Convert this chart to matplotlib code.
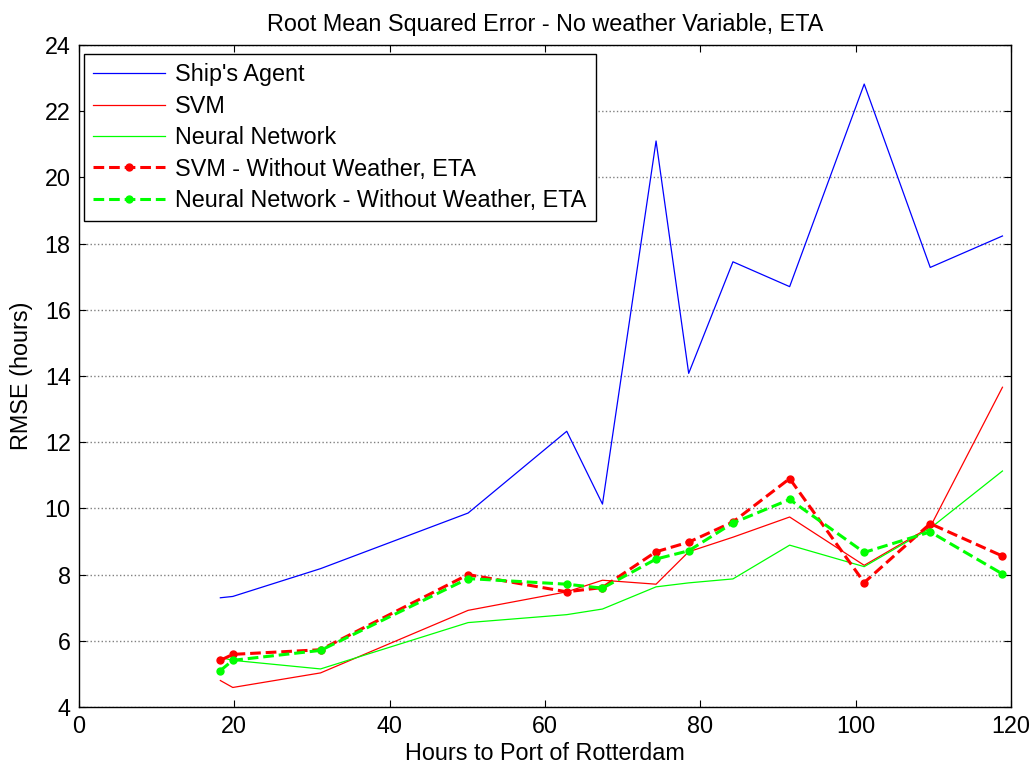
import matplotlib
matplotlib.use('Agg')
import matplotlib.pyplot as plt

plt.rcParams['font.family'] = 'Liberation Sans'

# hours to port for each evaluation point
hours = [18.2, 19.8, 31.1, 50.1, 62.8, 67.4, 74.3, 78.5, 84.2, 91.5, 101.1, 109.6, 118.9]

ships_agent = [7.30, 7.34, 8.18, 9.86, 12.33, 10.13, 21.10, 14.08, 17.45, 16.70, 22.82, 17.28, 18.23]
svm = [4.80, 4.59, 5.03, 6.92, 7.48, 7.83, 7.71, 8.69, 9.13, 9.74, 8.28, 9.44, 13.66]
nn = [5.50, 5.41, 5.15, 6.55, 6.79, 6.96, 7.63, 7.75, 7.87, 8.89, 8.24, 9.40, 11.13]
svm_no_weather = [5.41, 5.59, 5.73, 8.00, 7.48, 7.61, 8.69, 8.98, 9.59, 10.90, 7.76, 9.54, 8.56]
nn_no_weather = [5.10, 5.41, 5.71, 7.88, 7.71, 7.59, 8.47, 8.72, 9.56, 10.27, 8.67, 9.29, 8.02]

fs = 16.8

fig = plt.figure(figsize=(10.35, 7.71), dpi=100)
ax = fig.add_axes([79 / 1035, 1 - 707 / 771, (1011 - 79) / 1035, (707 - 45) / 771])

ax.grid(axis='y', linestyle=':', color='#808080', linewidth=1.0)
ax.set_axisbelow(True)

ax.plot(hours, ships_agent, color=(0, 0, 1), linewidth=0.9, label="Ship's Agent")
ax.plot(hours, svm, color=(1, 0, 0), linewidth=0.9, label='SVM')
ax.plot(hours, nn, color=(0, 1, 0), linewidth=0.9, label='Neural Network')
ax.plot(hours, svm_no_weather, color=(1, 0, 0), linestyle='--', linewidth=2.2,
        marker='o', markersize=5, dashes=(3.5, 1.6), label='SVM - Without Weather, ETA')
ax.plot(hours, nn_no_weather, color=(0, 1, 0), linestyle='--', linewidth=2.2,
        marker='o', markersize=5, dashes=(3.5, 1.6), label='Neural Network - Without Weather, ETA')

ax.set_xlim(0, 120)
ax.set_ylim(4, 24)
ax.set_xticks(range(0, 121, 20))
ax.set_yticks(range(4, 25, 2))
ax.tick_params(direction='in', top=True, right=True, labelsize=fs, length=5, pad=6)
for s in ax.spines.values():
    s.set_linewidth(1.0)

ax.set_title('Root Mean Squared Error - No weather Variable, ETA', fontsize=fs, pad=10)
ax.set_xlabel('Hours to Port of Rotterdam', fontsize=fs, labelpad=3)
ax.set_ylabel('RMSE (hours)', fontsize=fs, labelpad=8)

leg = ax.legend(loc='upper left', bbox_to_anchor=(84 / 1035, 1 - 54 / 771),
                bbox_transform=fig.transFigure, borderaxespad=0, fontsize=fs,
                fancybox=False, edgecolor='black', framealpha=1,
                handlelength=3.05, handletextpad=0.45, labelspacing=0.36,
                borderpad=0.4)
leg.get_frame().set_linewidth(1.0)

plt.savefig('out.png', dpi=100)
